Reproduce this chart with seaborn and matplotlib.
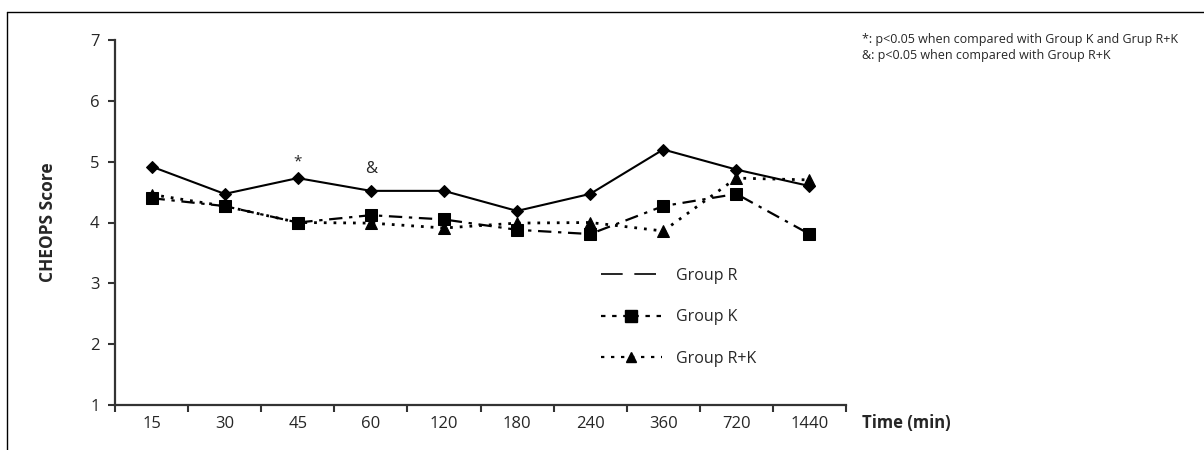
import numpy as np
import pandas as pd
import matplotlib
matplotlib.use('Agg')
import matplotlib.pyplot as plt
from matplotlib.lines import Line2D
import seaborn as sns

# Data
times = ['15', '30', '45', '60', '120', '180', '240', '360', '720', '1440']
group_r = [4.92, 4.47, 4.73, 4.52, 4.52, 4.19, 4.47, 5.20, 4.87, 4.60]
group_k = [4.40, 4.27, 4.00, 4.12, 4.05, 3.88, 3.81, 4.27, 4.47, 3.81]
group_rk = [4.46, 4.27, 4.00, 3.99, 3.91, 3.99, 4.00, 3.86, 4.73, 4.70]
notes = ['*: p<0.05 when compared with Group K and Grup R+K',
         '&: p<0.05 when compared with Group R+K']

df = pd.DataFrame({'pos': np.arange(len(times)), 'time': times,
                   'R': group_r, 'K': group_k, 'RK': group_rk})

sns.set_style('ticks')
plt.rcParams['font.family'] = ['Open Sans', 'DejaVu Sans']

fig = plt.figure(figsize=(12.04, 4.5), dpi=100)
ax = fig.add_axes([115 / 1204, 45 / 450, 731 / 1204, 365 / 450])

sns.lineplot(data=df, x='pos', y='R', ax=ax, color='black', lw=1.5,
             marker='D', markersize=6, markeredgecolor='black', zorder=4)
sns.lineplot(data=df, x='pos', y='K', ax=ax, color='black', lw=1.6,
             marker='s', markersize=9, markeredgecolor='black',
             dashes=False, linestyle=(0, (6, 3, 1.5, 3)), zorder=3)
sns.lineplot(data=df, x='pos', y='RK', ax=ax, color='black', lw=2,
             marker='^', markersize=8, markeredgecolor='black',
             linestyle=(0, (1, 2.5)), zorder=3)

ax.set_xlim(-0.5, len(times) - 0.5)
ax.set_ylim(1, 7)
ax.set_yticks(range(1, 8))
ax.set_xticks(df['pos'])
ax.set_xticklabels(times)
ax.set_xticks(np.arange(-0.5, len(times)), minor=True)
ax.tick_params(axis='x', which='major', length=0, pad=8, labelsize=12)
ax.tick_params(axis='x', which='minor', length=5, width=1.5, color='#333333')
ax.tick_params(axis='y', length=5, width=1.5, color='#333333', labelsize=12, pad=6)
sns.despine(ax=ax)
for sp in ['left', 'bottom']:
    ax.spines[sp].set_color('#333333')
    ax.spines[sp].set_linewidth(1.6)

ax.set_xlabel('')
ax.set_ylabel('CHEOPS Score', fontsize=12.5, fontweight='bold', labelpad=24)
ax.text(1.022, -0.05, 'Time (min)', transform=ax.transAxes, fontsize=12,
        fontweight='bold', ha='left', va='center')

# significance marks
ax.text(2, 5.0, '*', ha='center', va='center', fontsize=11)
ax.text(3, 4.88, '&', ha='center', va='center', fontsize=12)

# legend as in the reference
handles = [
    Line2D([], [], color='black', lw=1.2, linestyle=(0, (13, 7))),
    Line2D([], [], color='black', lw=1.6, linestyle=(0, (2, 3)),
           marker='s', markersize=8),
    Line2D([], [], color='black', lw=1.6, linestyle=(0, (1.5, 3)),
           marker='^', markersize=7),
]
ax.legend(handles, ['Group R', 'Group K', 'Group R+K'], loc='upper left',
          bbox_to_anchor=(0.645, 0.415), frameon=False, handlelength=3.8,
          labelspacing=1.6, fontsize=11.5, handletextpad=0.9)

fig.text(862 / 1204, 1 - 40 / 450, notes[0], fontsize=9, va='center')
fig.text(862 / 1204, 1 - 55 / 450, notes[1], fontsize=9, va='center')

# frame lines of the cropped figure
fig.add_artist(Line2D([7 / 1204, 1], [1 - 12 / 450] * 2, color='black', lw=1))
fig.add_artist(Line2D([7 / 1204] * 2, [0, 1 - 12 / 450], color='black', lw=1))

fig.savefig('out.png', dpi=100)
